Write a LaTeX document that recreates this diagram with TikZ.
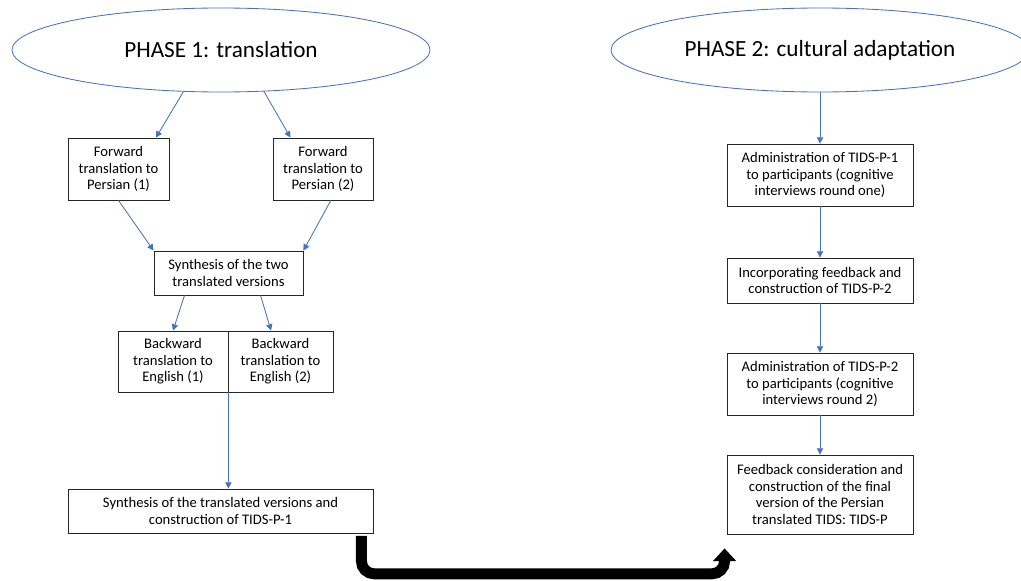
\documentclass[tikz,border=0pt]{standalone}
\usepackage{fontspec}
\setmainfont{Carlito}
\usepackage{tikz}
\usetikzlibrary{positioning,calc,shapes.geometric,arrows.meta}
\definecolor{officeblue}{HTML}{4472C4}

\tikzset{
  phase/.style={draw=officeblue, line width=0.6pt, shape=ellipse, minimum width=10.45cm, minimum height=2.1cm, font=\fontsize{16.5}{19}\selectfont},
  block/.style={draw=black!85, line width=0.6pt, shape=rectangle, align=center, inner sep=1pt, font=\fontsize{10.4}{11.8}\selectfont},
  link/.style={-{Triangle[length=4.5pt, width=4.5pt]}, officeblue, line width=0.6pt},
  bigarrow/.style={-{Triangle[length=9pt, width=16pt]}, black, line width=7.8pt, rounded corners=9pt}
}

\begin{document}
\begin{tikzpicture}

\useasboundingbox (0, 0) rectangle (25.525, -14.525);
\clip (0, 0) rectangle (25.525, -14.525);

% phase 1
\path (5.525, -1.25) node[phase] (ph1) {PHASE 1: translation};
\path (2.9625, -4.225) node[block, minimum width=2.525cm, minimum height=1.55cm] (fw1) {Forward\\translation to\\Persian (1)};
\path (8.075, -4.225) node[block, minimum width=2.5cm, minimum height=1.55cm] (fw2) {Forward\\translation to\\Persian (2)};
\path (5.7125, -6.825) node[block, minimum width=3.725cm, minimum height=1.1cm] (syn) {Synthesis of the two\\translated versions};
\path (4.325, -9.0375) node[block, minimum width=2.75cm, minimum height=1.525cm] (bw1) {Backward\\translation to\\English (1)};
\path (7.0125, -9.0375) node[block, minimum width=2.625cm, minimum height=1.525cm] (bw2) {Backward\\translation to\\English (2)};
\path (5.5125, -12.775) node[block, minimum width=7.625cm, minimum height=1.1cm] (fin) {Synthesis of the translated versions and\\construction of TIDS-P-1};

\draw[link] (ph1.228) -- (fw1.40);
\draw[link] (ph1.316) -- (fw2.136);
\draw[link] (fw1.south) -- (syn.north west);
\draw[link] (fw2.284) -- (syn.north east);
\draw[link] (syn.207) -- (bw1.north);
\draw[link] (syn.325) -- (bw2.107);
\draw[link] (bw1.south east) -- (bw1.south east |- fin.north);

% phase 2
\path (20.5, -1.25) node[phase] (ph2) {PHASE 2: cultural adaptation};
\path (20.5, -4.375) node[block, minimum width=4.65cm, minimum height=1.55cm] (ad1) {Administration of TIDS-P-1\\to participants (cognitive\\interviews round one)};
\path (20.5, -7.0125) node[block, minimum width=4.65cm, minimum height=1.125cm] (inc) {Incorporating feedback and\\construction of TIDS-P-2};
\path (20.5, -9.6) node[block, minimum width=4.65cm, minimum height=1.55cm] (ad2) {Administration of TIDS-P-2\\to participants (cognitive\\interviews round 2)};
\path (20.5, -12.3625) node[block, minimum width=4.65cm, minimum height=1.975cm] (fb) {Feedback consideration and\\construction of the final\\version of the Persian\\translated TIDS: TIDS-P};

\draw[link] (ph2.south) -- (ad1.north);
\draw[link] (ad1.south) -- (inc.north);
\draw[link] (inc.south) -- (ad2.north);
\draw[link] (ad2.south) -- (fb.north);

% from phase 1 to phase 2
\coordinate (start) at ($(fin.south east)+(-0.3, -0.06)$);
\coordinate (end) at ($(fb.south west)+(-0.05, -0.35)$);
\draw[bigarrow] (start) -- ++(0, -0.95) -| (end);
\end{tikzpicture}
\end{document}
